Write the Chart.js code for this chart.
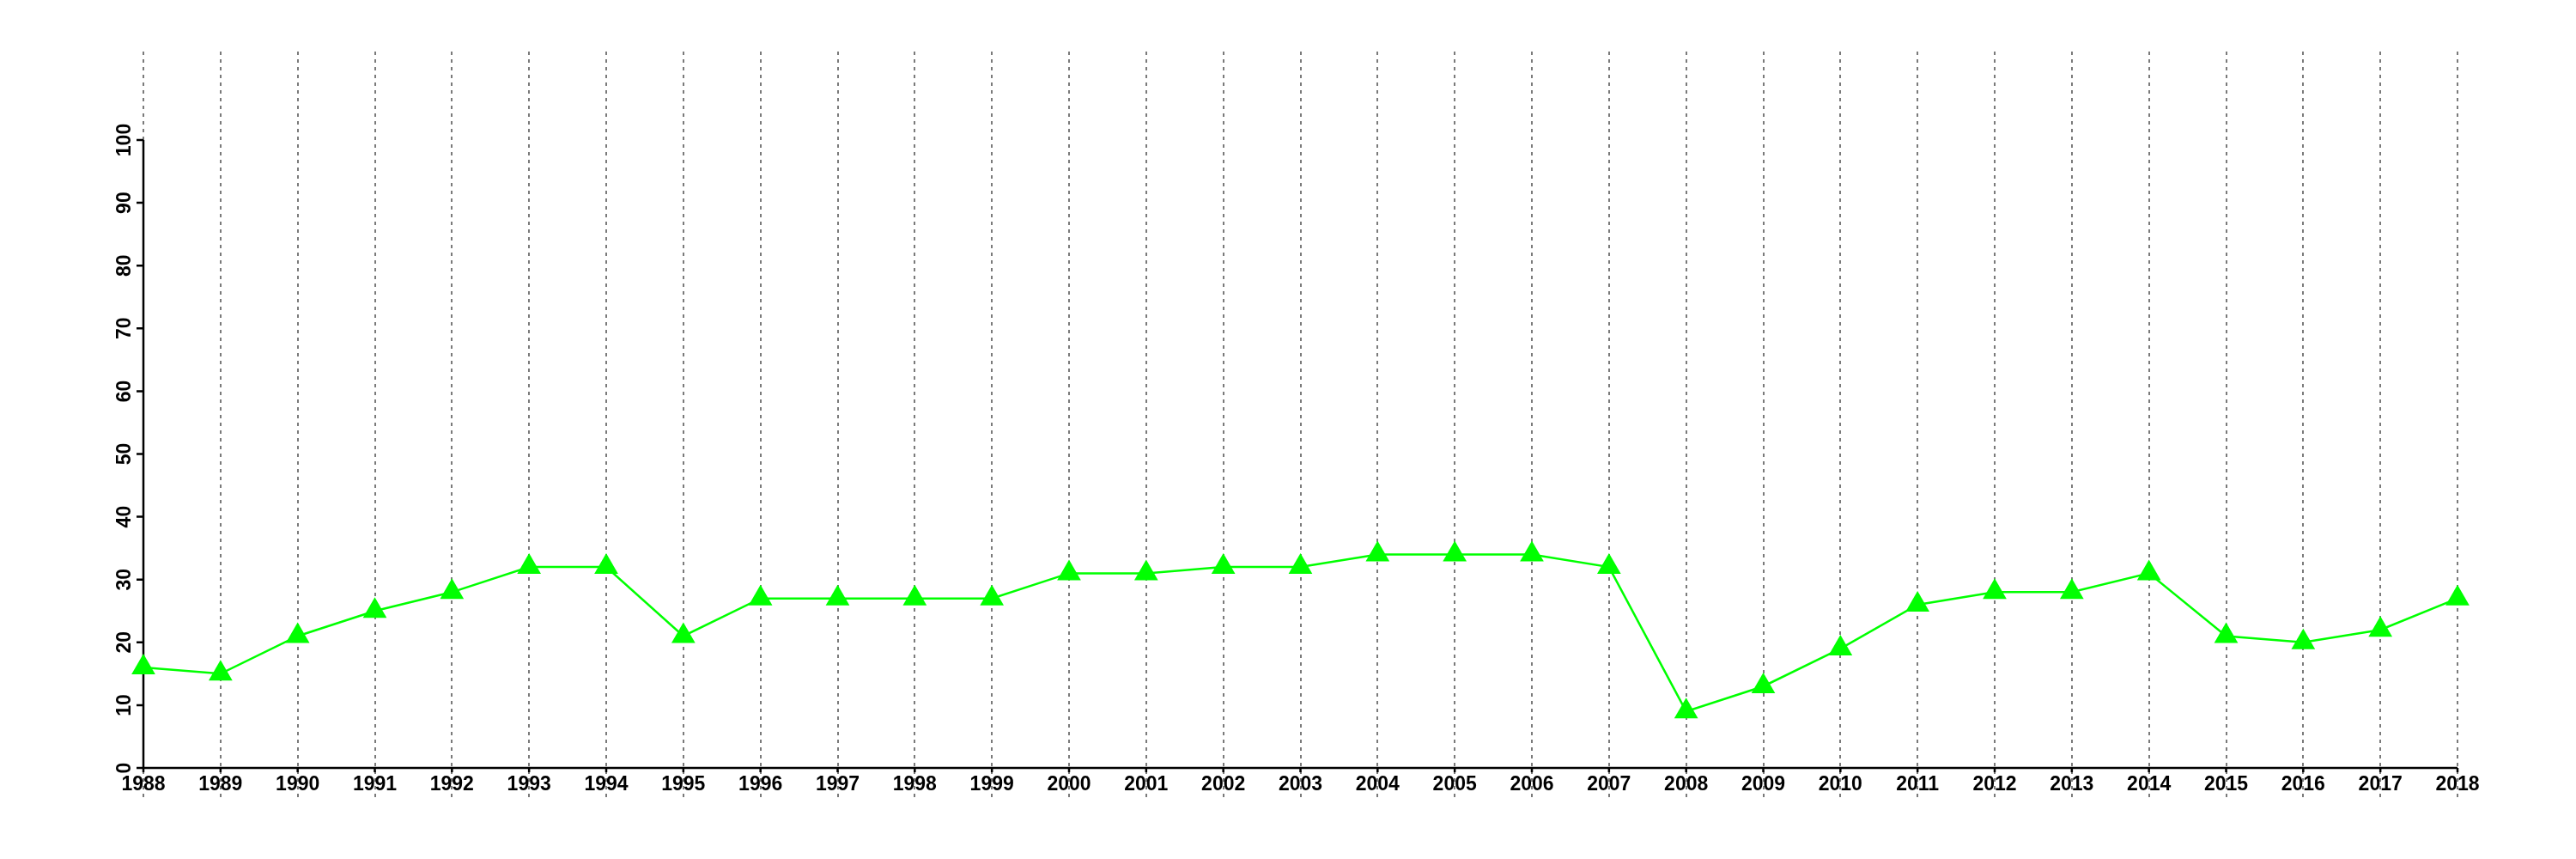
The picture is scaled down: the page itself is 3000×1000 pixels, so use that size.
<!DOCTYPE html>
<html>
<head>
<meta charset="utf-8">
<script src="https://cdn.jsdelivr.net/npm/chart.js@4"></script>
<style>
  body { margin: 0; background: #fff; }
  #wrap { width: 3000px; height: 1000px; }
</style>
</head>
<body>
<div id="wrap"><canvas id="lineChart"></canvas></div>
<script>
// data
const years = ['1988','1989','1990','1991','1992','1993','1994','1995','1996','1997','1998','1999','2000',
  '2001','2002','2003','2004','2005','2006','2007','2008','2009','2010','2011','2012','2013','2014',
  '2015','2016','2017','2018'];
const values = [16, 15, 21, 25, 28, 32, 32, 21, 27, 27, 27, 27, 31,
  31, 32, 32, 34, 34, 34, 32, 9, 13, 19, 26, 28, 28, 31,
  21, 20, 22, 27];
const yTicks = [0, 10, 20, 30, 40, 50, 60, 70, 80, 90, 100];

const FONT = 'bold 23px "Liberation Sans", Arial, sans-serif';

// axes, grid and tick labels drawn from the chart's own scales
const axesPlugin = {
  id: 'rAxes',
  beforeDatasetsDraw(chart) {
    const ctx = chart.ctx;
    const xs = chart.scales.x, ys = chart.scales.y;
    const y0 = ys.getPixelForValue(0), yTop = ys.getPixelForValue(100);

    // vertical dotted grid
    ctx.save();
    ctx.strokeStyle = '#7a7a7a';
    ctx.lineWidth = 2;
    ctx.setLineDash([4, 5]);
    years.forEach((yr, i) => {
      const x = Math.round(xs.getPixelForValue(i));
      ctx.beginPath();
      ctx.moveTo(x, 60);
      ctx.lineTo(x, 928);
      ctx.stroke();
    });
    ctx.restore();

    // axis lines + ticks
    ctx.save();
    ctx.strokeStyle = '#000';
    ctx.lineWidth = 2.5;
    const xl = xs.getPixelForValue(0), xr = xs.getPixelForValue(years.length - 1);
    ctx.beginPath();
    ctx.moveTo(xl, y0); ctx.lineTo(xl, yTop);
    ctx.moveTo(xl - 8, y0); ctx.lineTo(xr, y0);
    yTicks.forEach(v => {
      const y = ys.getPixelForValue(v);
      ctx.moveTo(xl - 8, y); ctx.lineTo(xl, y);
    });
    years.forEach((yr, i) => {
      const x = xs.getPixelForValue(i);
      ctx.moveTo(x, y0); ctx.lineTo(x, y0 + 5);
    });
    ctx.stroke();

    // labels
    ctx.fillStyle = '#000';
    ctx.font = FONT;
    ctx.textAlign = 'center';
    ctx.textBaseline = 'top';
    years.forEach((yr, i) => {
      ctx.fillText(yr, xs.getPixelForValue(i), y0 + 8);
    });
    yTicks.forEach(v => {
      const y = ys.getPixelForValue(v);
      ctx.save();
      ctx.translate(xl - 15, y);
      ctx.rotate(-Math.PI / 2);
      ctx.textAlign = 'center';
      ctx.textBaseline = 'alphabetic';
      ctx.fillText(String(v), 0, 0);
      ctx.restore();
    });
    ctx.restore();
  }
};

const lineCtx = document.getElementById('lineChart').getContext('2d');
new Chart(lineCtx, {
  type: 'line',
  data: {
    labels: years,
    datasets: [{
      data: values,
      borderColor: '#00ff00',
      backgroundColor: '#00ff00',
      borderWidth: 2.5,
      tension: 0,
      pointStyle: 'triangle',
      pointRadius: 16,
      pointBorderWidth: 0,
      pointBackgroundColor: '#00ff00',
      clip: false
    }]
  },
  options: {
    responsive: true,
    maintainAspectRatio: false,
    animation: false,
    devicePixelRatio: 1,
    layout: { padding: { left: 167, right: 138, top: 163, bottom: 106 } },
    plugins: { legend: { display: false }, tooltip: { enabled: false } },
    scales: {
      x: { type: 'category', offset: false, display: false },
      y: { min: 0, max: 100, display: false }
    }
  },
  plugins: [axesPlugin]
});
</script>
</body>
</html>
